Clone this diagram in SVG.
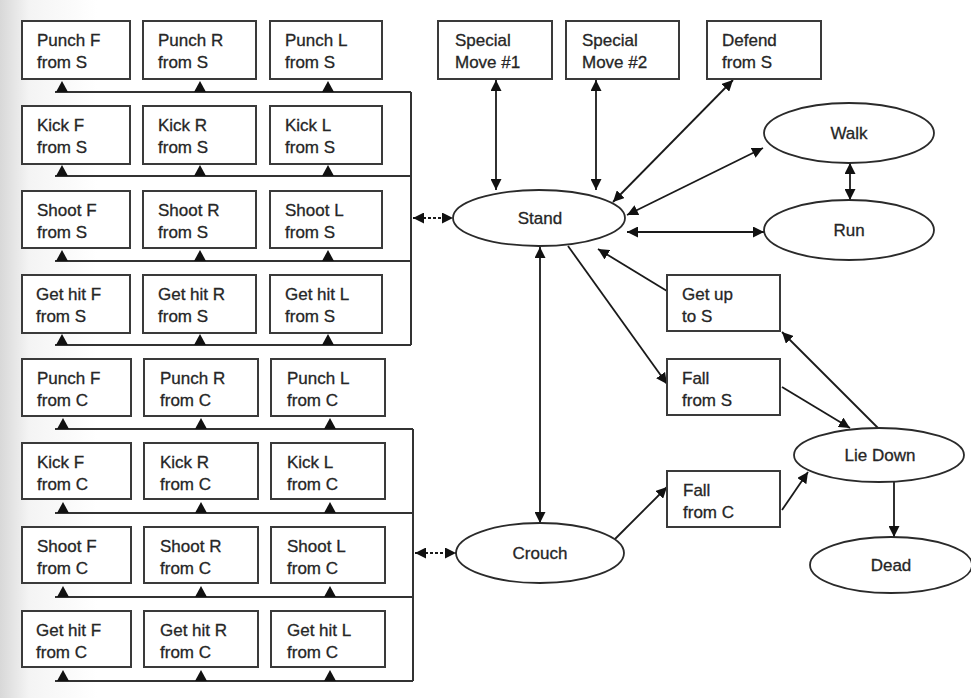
<svg xmlns="http://www.w3.org/2000/svg" width="971" height="698" viewBox="0 0 971 698">
<defs>
<linearGradient id="bg" x1="0" y1="0" x2="1" y2="0">
<stop offset="0" stop-color="#d8d8d8"/><stop offset="0.03" stop-color="#f4f4f4"/><stop offset="0.1" stop-color="#ffffff"/>
</linearGradient>
<marker id="ah" viewBox="0 0 10 10" refX="10" refY="5" markerWidth="11" markerHeight="11" markerUnits="userSpaceOnUse" orient="auto-start-reverse">
<path d="M0,0 L10,5 L0,10 z" fill="#111"/>
</marker>
<path id="tri" d="M-6,0 L0,-11 L6,0 z" fill="#111"/>
<style>
.box{fill:#fff;stroke:#3a3a3a;stroke-width:2}
.ell{fill:#fff;stroke:#2a2a2a;stroke-width:1.8}
.t{font-family:"Liberation Sans",Arial,sans-serif;font-size:17px;fill:#262626;stroke:#262626;stroke-width:0.3}
.c{text-anchor:middle}
.bus{fill:none;stroke:#333;stroke-width:2}
.ln{fill:none;stroke:#1a1a1a;stroke-width:1.8}
.d{marker-start:url(#ah);marker-end:url(#ah)}
.e{marker-end:url(#ah)}
.dash{stroke-dasharray:3 2}
</style>
</defs>
<rect width="971" height="698" fill="url(#bg)"/>

<g id="connectors">
<path class="bus" d="M55,92 H411 M55,176 H411 M55,261 H411 M55,345 H411 M411,92 V345"/>
<path class="bus" d="M55,429 H413 M55,513 H413 M55,597 H413 M55,681 H413 M413,429 V681"/>
<g>
<use href="#tri" x="62" y="92"/><use href="#tri" x="200" y="92"/><use href="#tri" x="328" y="92"/>
<use href="#tri" x="62" y="176"/><use href="#tri" x="200" y="176"/><use href="#tri" x="328" y="176"/>
<use href="#tri" x="62" y="261"/><use href="#tri" x="200" y="261"/><use href="#tri" x="328" y="261"/>
<use href="#tri" x="62" y="345"/><use href="#tri" x="200" y="345"/><use href="#tri" x="328" y="345"/>
<use href="#tri" x="63" y="429"/><use href="#tri" x="201" y="429"/><use href="#tri" x="330" y="429"/>
<use href="#tri" x="63" y="513"/><use href="#tri" x="201" y="513"/><use href="#tri" x="330" y="513"/>
<use href="#tri" x="63" y="597"/><use href="#tri" x="201" y="597"/><use href="#tri" x="330" y="597"/>
<use href="#tri" x="63" y="681"/><use href="#tri" x="201" y="681"/><use href="#tri" x="330" y="681"/>
</g>
<line class="ln d dash" x1="413" y1="218" x2="453" y2="218"/>
<line class="ln d dash" x1="415" y1="553" x2="456" y2="553"/>
<line class="ln d" x1="496" y1="80" x2="496" y2="190"/>
<line class="ln d" x1="596" y1="80" x2="596" y2="190"/>
<line class="ln d" x1="733" y1="80" x2="613" y2="202"/>
<line class="ln d" x1="763" y1="148" x2="627" y2="215"/>
<line class="ln d" x1="850" y1="163" x2="850" y2="200"/>
<line class="ln d" x1="627" y1="232" x2="764" y2="232"/>
<line class="ln d" x1="540" y1="247" x2="540" y2="523"/>
<line class="ln e" x1="568" y1="246" x2="667" y2="384"/>
<line class="ln e" x1="667" y1="291" x2="598" y2="249"/>
<line class="ln e" x1="782" y1="387" x2="850" y2="428"/>
<line class="ln e" x1="878" y1="428" x2="782" y2="332"/>
<line class="ln e" x1="615" y1="539" x2="667" y2="487"/>
<line class="ln e" x1="782" y1="510" x2="808" y2="472"/>
<line class="ln e" x1="894" y1="482" x2="894" y2="537"/>
</g>

<g id="punch-f-s"><rect class="box" x="22" y="21" width="108" height="58"/><text class="t" x="37" y="46">Punch F</text><text class="t" x="37" y="68">from S</text></g>
<g id="punch-r-s"><rect class="box" x="143" y="21" width="113" height="58"/><text class="t" x="158" y="46">Punch R</text><text class="t" x="158" y="68">from S</text></g>
<g id="punch-l-s"><rect class="box" x="270" y="21" width="112" height="58"/><text class="t" x="285" y="46">Punch L</text><text class="t" x="285" y="68">from S</text></g>

<g id="kick-f-s"><rect class="box" x="22" y="106" width="108" height="58"/><text class="t" x="37" y="131">Kick F</text><text class="t" x="37" y="153">from S</text></g>
<g id="kick-r-s"><rect class="box" x="143" y="106" width="113" height="58"/><text class="t" x="158" y="131">Kick R</text><text class="t" x="158" y="153">from S</text></g>
<g id="kick-l-s"><rect class="box" x="270" y="106" width="112" height="58"/><text class="t" x="285" y="131">Kick L</text><text class="t" x="285" y="153">from S</text></g>

<g id="shoot-f-s"><rect class="box" x="22" y="191" width="108" height="57"/><text class="t" x="37" y="216">Shoot F</text><text class="t" x="37" y="238">from S</text></g>
<g id="shoot-r-s"><rect class="box" x="143" y="191" width="113" height="57"/><text class="t" x="158" y="216">Shoot R</text><text class="t" x="158" y="238">from S</text></g>
<g id="shoot-l-s"><rect class="box" x="270" y="191" width="112" height="57"/><text class="t" x="285" y="216">Shoot L</text><text class="t" x="285" y="238">from S</text></g>

<g id="gethit-f-s"><rect class="box" x="22" y="275" width="108" height="58"/><text class="t" x="36" y="300">Get hit F</text><text class="t" x="36" y="322">from S</text></g>
<g id="gethit-r-s"><rect class="box" x="143" y="275" width="113" height="58"/><text class="t" x="158" y="300">Get hit R</text><text class="t" x="158" y="322">from S</text></g>
<g id="gethit-l-s"><rect class="box" x="270" y="275" width="112" height="58"/><text class="t" x="285" y="300">Get hit L</text><text class="t" x="285" y="322">from S</text></g>

<g id="punch-f-c"><rect class="box" x="22" y="359" width="109" height="57"/><text class="t" x="37" y="384">Punch F</text><text class="t" x="37" y="406">from C</text></g>
<g id="punch-r-c"><rect class="box" x="144" y="359" width="114" height="57"/><text class="t" x="160" y="384">Punch R</text><text class="t" x="160" y="406">from C</text></g>
<g id="punch-l-c"><rect class="box" x="271" y="359" width="114" height="57"/><text class="t" x="287" y="384">Punch L</text><text class="t" x="287" y="406">from C</text></g>

<g id="kick-f-c"><rect class="box" x="22" y="443" width="109" height="56"/><text class="t" x="37" y="468">Kick F</text><text class="t" x="37" y="490">from C</text></g>
<g id="kick-r-c"><rect class="box" x="144" y="443" width="114" height="56"/><text class="t" x="160" y="468">Kick R</text><text class="t" x="160" y="490">from C</text></g>
<g id="kick-l-c"><rect class="box" x="271" y="443" width="114" height="56"/><text class="t" x="287" y="468">Kick L</text><text class="t" x="287" y="490">from C</text></g>

<g id="shoot-f-c"><rect class="box" x="22" y="527" width="109" height="56"/><text class="t" x="37" y="552">Shoot F</text><text class="t" x="37" y="574">from C</text></g>
<g id="shoot-r-c"><rect class="box" x="144" y="527" width="114" height="56"/><text class="t" x="160" y="552">Shoot R</text><text class="t" x="160" y="574">from C</text></g>
<g id="shoot-l-c"><rect class="box" x="271" y="527" width="114" height="56"/><text class="t" x="287" y="552">Shoot L</text><text class="t" x="287" y="574">from C</text></g>

<g id="gethit-f-c"><rect class="box" x="22" y="611" width="109" height="56"/><text class="t" x="36" y="636">Get hit F</text><text class="t" x="36" y="658">from C</text></g>
<g id="gethit-r-c"><rect class="box" x="144" y="611" width="114" height="56"/><text class="t" x="160" y="636">Get hit R</text><text class="t" x="160" y="658">from C</text></g>
<g id="gethit-l-c"><rect class="box" x="271" y="611" width="114" height="56"/><text class="t" x="287" y="636">Get hit L</text><text class="t" x="287" y="658">from C</text></g>

<g id="special-1"><rect class="box" x="438" y="21" width="114" height="58"/><text class="t" x="455" y="46">Special</text><text class="t" x="455" y="68">Move #1</text></g>
<g id="special-2"><rect class="box" x="566" y="21" width="113" height="58"/><text class="t" x="582" y="46">Special</text><text class="t" x="582" y="68">Move #2</text></g>
<g id="defend"><rect class="box" x="707" y="21" width="114" height="58"/><text class="t" x="722" y="46">Defend</text><text class="t" x="722" y="68">from S</text></g>

<g id="stand"><ellipse class="ell" cx="539" cy="218" rx="86" ry="28"/><text class="t c" x="540" y="224">Stand</text></g>
<g id="walk"><ellipse class="ell" cx="849" cy="133" rx="85" ry="30"/><text class="t c" x="849" y="139">Walk</text></g>
<g id="run"><ellipse class="ell" cx="849" cy="230" rx="85" ry="30"/><text class="t c" x="849" y="236">Run</text></g>
<g id="getup"><rect class="box" x="667" y="275" width="113" height="56"/><text class="t" x="682" y="300">Get up</text><text class="t" x="682" y="322">to S</text></g>
<g id="fall-s"><rect class="box" x="667" y="359" width="113" height="56"/><text class="t" x="682" y="384">Fall</text><text class="t" x="682" y="406">from S</text></g>
<g id="liedown"><ellipse class="ell" cx="879" cy="455" rx="85" ry="27"/><text class="t c" x="880" y="461">Lie Down</text></g>
<g id="fall-c"><rect class="box" x="667" y="471" width="113" height="56"/><text class="t" x="683" y="496">Fall</text><text class="t" x="683" y="518">from C</text></g>
<g id="crouch"><ellipse class="ell" cx="540" cy="553" rx="84" ry="30"/><text class="t c" x="540" y="559">Crouch</text></g>
<g id="dead"><ellipse class="ell" cx="891" cy="565" rx="81" ry="28"/><text class="t c" x="891" y="571">Dead</text></g>
</svg>
